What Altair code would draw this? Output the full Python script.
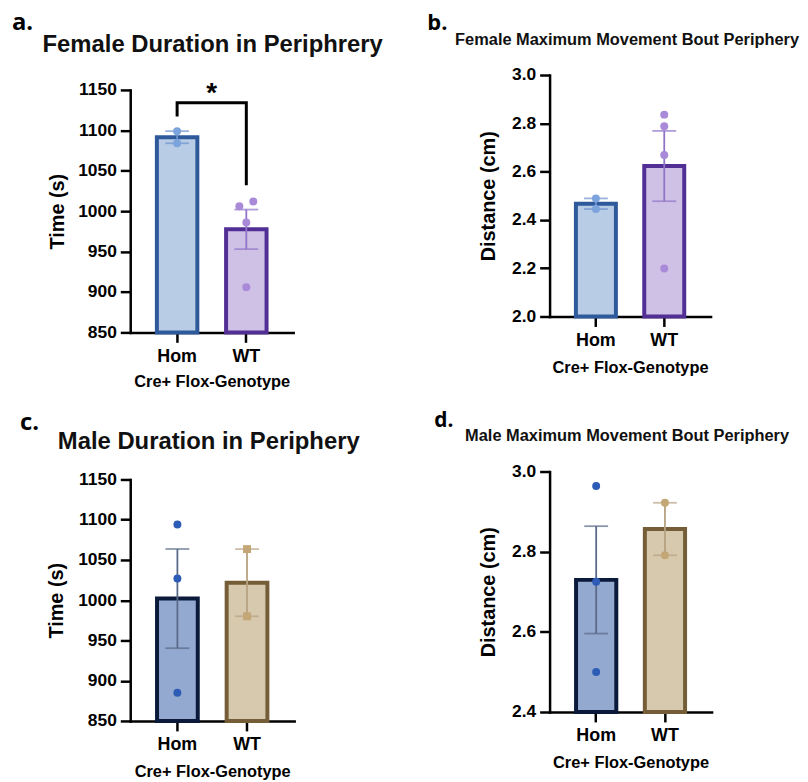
import altair as alt
import pandas as pd

# ---------------- data ----------------
groups = ["Hom", "WT"]

# a. Female duration in periphery (s)
a_hom = [1099, 1084]
a_wt = [1006, 1012, 986, 906]
# b. Female maximum movement bout periphery (cm)
b_hom = [2.489, 2.445]
b_wt = [2.836, 2.788, 2.669, 2.199]
# c. Male duration in periphery (s)
c_hom = [1094, 1027, 885]
c_wt = [1063.5, 980]
# d. Male maximum movement bout periphery (cm)
d_hom = [2.964, 2.725, 2.500]
d_wt = [2.922, 2.791]

titles = ["Female Duration in Periphrery", "Female Maximum Movement Bout Periphery",
          "Male Duration in Periphery", "Male Maximum Movement Bout Periphery"]
letters = ["a.", "b.", "c.", "d."]
y_titles = ["Time (s)", "Distance (cm)", "Time (s)", "Distance (cm)"]
x_title = "Cre+ Flox-Genotype"
y_domains = [[850, 1150], [2.0, 3.0], [850, 1150], [2.4, 3.0]]
y_ticks = [[850, 900, 950, 1000, 1050, 1100, 1150],
           [2.0, 2.2, 2.4, 2.6, 2.8, 3.0],
           [850, 900, 950, 1000, 1050, 1100, 1150],
           [2.4, 2.6, 2.8, 3.0]]
y_formats = ["d", ".1f", "d", ".1f"]

# significance bracket for panel a
sig_groups = ["Hom", "Hom", "WT", "WT"]
sig_values = [1117, 1134, 1134, 1032]
sig_label = "*"

# ---------------- style ----------------
female_colors = {
    "Hom": dict(fill="#b9cce6", stroke="#2e5a9c", point="#7ca3dc", err="#6d93cf"),
    "WT": dict(fill="#cfc1e6", stroke="#522f94", point="#a98ad8", err="#9074c8"),
}
male_colors = {
    "Hom": dict(fill="#94a9d0", stroke="#0b1a3a", point="#2d5cb6", err="#5a6a88"),
    "WT": dict(fill="#d7c9ae", stroke="#755d37", point="#c3a777", err="#b6a281"),
}

FONT = "Liberation Sans"
PAD_IN = 0.415
PAD_OUT = 0.385
JIT = 7  # px side offset for overlapping points

# absolute page layout (pixels) of each panel
layouts = [
    dict(plot=(131, 88, 164, 244), frame=(8, 9, 404, 398), letter=(12, 28, 24),
         title=(214, 49.5, 24), ytitle_x=57.5, xtitle_y=49),
    dict(plot=(553, 72, 162, 243), frame=(404, 9, 800, 398), letter=(430, 26.7, 22),
         title=(631, 41.7, 16.5), ytitle_x=492, xtitle_y=51),
    dict(plot=(131, 480, 165, 243), frame=(8, 398, 404, 772), letter=(20, 430, 24),
         title=(210, 449.3, 24), ytitle_x=57, xtitle_y=51),
    dict(plot=(553, 471, 163, 242), frame=(404, 398, 800, 772), letter=(437, 426, 21),
         title=(631, 440, 16.5), ytitle_x=492, xtitle_y=51),
]

one = pd.DataFrame({"k": [0]})


def jitter(vals, ppu, gap=9.5):
    """-1 / 0 / +1 side for points that would overlap."""
    idx = sorted(range(len(vals)), key=lambda k: vals[k])
    offs = [0] * len(vals)
    clusters = [[idx[0]]]
    for k in idx[1:]:
        if (vals[k] - vals[clusters[-1][-1]]) * ppu < gap:
            clusters[-1].append(k)
        else:
            clusters.append([k])
    for c in clusters:
        if len(c) > 1:
            for j, k in enumerate(c):
                offs[k] = -1 if j % 2 == 0 else 1
    return offs


def panel(i, hom, wt, colors, wt_shape="circle", sig=False):
    L = layouts[i]
    px, py, w, h = L["plot"]
    fx0, fy0, fx1, fy1 = L["frame"]
    dom = y_domains[i]
    ppu = h / (dom[1] - dom[0])
    step = w / (len(groups) - PAD_IN + 2 * PAD_OUT)

    recs = []
    for g, vals in zip(groups, [hom, wt]):
        for v, o in zip(vals, jitter(vals, ppu)):
            recs.append({"group": g, "value": v, "side": o})
    df = pd.DataFrame(recs)

    yscale = alt.Scale(domain=dom, nice=False, zero=False)
    yaxis = alt.Axis(values=y_ticks[i], format=y_formats[i], title=y_titles[i],
                     labelFontSize=17.5, labelPadding=4, titleFontSize=20,
                     titleX=L["ytitle_x"] - px, titleY=h / 2, titleBaseline="middle",
                     titleAlign="center", titleAngle=270)
    xscale = alt.Scale(domain=groups, paddingInner=PAD_IN, paddingOuter=PAD_OUT)
    xaxis = alt.Axis(title=x_title, labelAngle=0, labelFontSize=18, labelPadding=5,
                     titleFontSize=16.5, titleX=w / 2, titleY=L["xtitle_y"],
                     titleBaseline="middle", titleAlign="center")

    def X():
        return alt.X("group:N", scale=xscale, axis=xaxis)

    def Y(field):
        return alt.Y(field, type="quantitative", scale=yscale, axis=yaxis)

    is_hom = alt.datum.group == "Hom"

    def cond(key):
        return alt.condition(is_hom, alt.value(colors["Hom"][key]), alt.value(colors["WT"][key]))

    base = alt.Chart(df)
    agg = base.transform_aggregate(
        m="mean(value)", se="stderr(value)", groupby=["group"]
    ).transform_calculate(lo="datum.m - datum.se", hi="datum.m + datum.se")

    frame = alt.Chart(one).mark_rule(strokeOpacity=0, strokeWidth=0).encode(
        x=alt.value(fx0 - px), y=alt.value(fy0 - py),
        x2=alt.value(fx1 - px), y2=alt.value(fy1 - py))

    bars = agg.mark_bar(strokeWidth=4).encode(
        x=X(), y=Y("m"), y2=alt.datum(dom[0]), fill=cond("fill"), stroke=cond("stroke"))
    err = agg.mark_rule(strokeWidth=1.8).encode(
        x=X(), y=Y("lo"), y2="hi:Q", color=cond("err"))
    caps = agg.transform_fold(["lo", "hi"], as_=["k", "v"]).mark_tick(
        size=24, thickness=1.8).encode(x=X(), y=Y("v"), color=cond("err"))

    shape = alt.condition(is_hom, alt.value("circle"), alt.value(wt_shape))
    pts = []
    for side in (-1, 0, 1):
        pts.append(
            base.transform_filter(alt.datum.side == side)
            .mark_point(filled=True, size=64, opacity=1, xOffset=side * JIT)
            .encode(x=X(), y=Y("value"), color=cond("point"), shape=shape)
        )

    lx, ly, lfs = L["letter"]
    letter = alt.Chart(one).mark_text(
        text=letters[i], font="Open Sans", fontWeight="bold", fontSize=lfs,
        align="left", baseline="alphabetic", color="black").encode(
        x=alt.value(lx - px), y=alt.value(ly - py))
    tx, ty, tfs = L["title"]
    title = alt.Chart(one).mark_text(
        text=titles[i], font=FONT, fontWeight="bold", fontSize=tfs,
        align="center", baseline="alphabetic", color="#111111").encode(
        x=alt.value(tx - px), y=alt.value(ty - py))

    layers = [frame, bars, err, caps] + pts
    if sig:
        sdf = pd.DataFrame({"group": sig_groups, "value": sig_values,
                            "o": list(range(len(sig_values)))})
        bracket = alt.Chart(sdf).mark_line(strokeWidth=3, color="black", strokeJoin="miter").encode(
            x=X(), y=Y("value"), order="o:Q")
        star_df = pd.DataFrame({"group": [sig_groups[0]], "value": [max(sig_values)],
                                "t": [sig_label]})
        star = alt.Chart(star_df).mark_text(
            font=FONT, fontWeight="bold", fontSize=28, baseline="alphabetic",
            align="center", dx=step / 2, dy=-1, color="black").encode(
            x=X(), y=Y("value"), text="t:N")
        layers += [bracket, star]
    layers += [letter, title]
    return alt.layer(*layers).properties(width=w, height=h)


def spacer():
    # 1px invisible top row so that panels below it are placed by their own bounds
    return alt.Chart(one).mark_rule(strokeOpacity=0, strokeWidth=0).encode(
        x=alt.value(0), y=alt.value(0), x2=alt.value(1), y2=alt.value(0)
    ).properties(width=1, height=1)


pa = panel(0, a_hom, a_wt, female_colors, sig=True)
pb = panel(1, b_hom, b_wt, female_colors)
pc = panel(2, c_hom, c_wt, male_colors, wt_shape="square")
pd_ = panel(3, d_hom, d_wt, male_colors)

chart = alt.hconcat(
    alt.vconcat(spacer(), pa, pc, spacing=0),
    alt.vconcat(spacer(), pb, pd_, spacing=0),
    spacing=0,
).properties(padding=0, background="white").configure_view(stroke=None).configure_axis(
    domainColor="black", domainWidth=2.5, domainCap="square",
    tickColor="black", tickWidth=2.5, tickSize=10, grid=False,
    labelFont=FONT, labelFontWeight="bold", labelColor="black",
    titleFont=FONT, titleFontWeight="bold", titleColor="black",
)

chart.save("out.html", embed_options={"renderer": "svg", "actions": False})
